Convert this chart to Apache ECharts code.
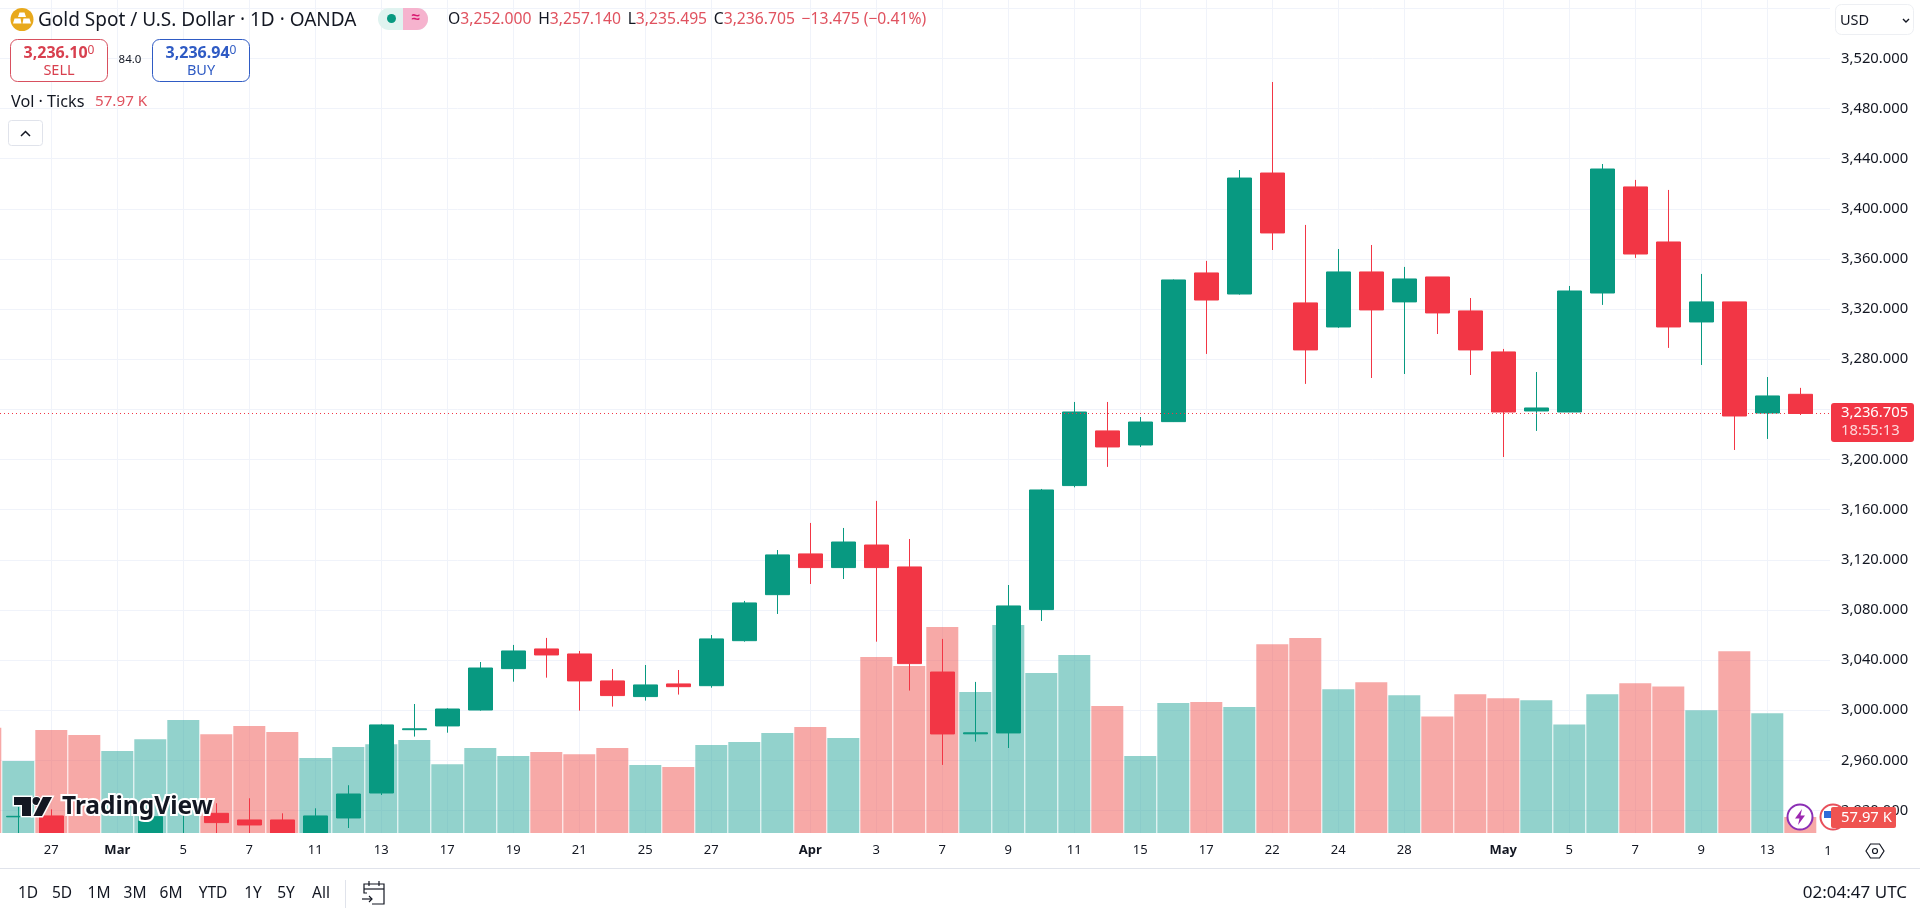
<!DOCTYPE html>
<html><head><meta charset="utf-8"><title>Gold Spot / U.S. Dollar</title>
<style>html,body{margin:0;padding:0;background:#fff}#c{width:1920px;height:913px}</style>
<script src="https://cdn.jsdelivr.net/npm/echarts@6/dist/echarts.min.js"></script></head>
<body><div id="c"></div>
<script>
const categories=["Feb 25","Feb 26","Feb 27","Feb 28","Mar 3","Mar 4","Mar 5","Mar 6","Mar 7","Mar 10","Mar 11","Mar 12","Mar 13","Mar 14","Mar 17","Mar 18","Mar 19","Mar 20","Mar 21","Mar 24","Mar 25","Mar 26","Mar 27","Mar 28","Mar 31","Apr 1","Apr 2","Apr 3","Apr 4","Apr 7","Apr 8","Apr 9","Apr 10","Apr 11","Apr 14","Apr 15","Apr 16","Apr 17","Apr 18","Apr 22","Apr 23","Apr 24","Apr 25","Apr 28","Apr 29","Apr 30","May 1","May 2","May 5","May 6","May 7","May 8","May 9","May 12","May 13","May 14"];
const opens=[2930,2915,2915.7,2876,2858,2893,2885,2917.8,2912.5,2912.5,2888,2914.1,2934,2984.5,2987.5,3000.2,3033.2,3048.9,3044.9,3023.4,3010.9,3021,3019.6,3055.5,3092.2,3124.7,3113.8,3131.8,3114.3,3030.5,2981.2,2981.9,3080.3,3179.2,3222.8,3211.6,3230.2,3348.8,3332,3428.5,3324.9,3305.7,3349.6,3325.7,3345.6,3318.5,3285.8,3238.7,3237.9,3332.8,3417.4,3373.5,3309.7,3325.7,3237.1,3252];
const closes=[2915,2915.4,2876,2858,2893,2915.1,2899,2910.4,2908.5,2888,2915.7,2933.2,2988.3,2985.2,3001,3033.7,3047.3,3044.1,3023.4,3011.7,3020.2,3018.8,3056.9,3085.6,3123.9,3113.8,3134.2,3113.8,3037.2,2981.1,2982,3083.2,3175.7,3237.9,3210,3229.9,3343.2,3327.2,3424.5,3380.7,3287.4,3349.6,3319.3,3344,3316.9,3287.4,3237.9,3241.1,3334.4,3431.7,3363.9,3305.7,3325.7,3234.7,3250.7,3236.705];
const lows=[2905,2890,2870,2832,2833,2885,2880,2893,2895,2880,2880,2906.1,2932.4,2979,2982.1,2999.7,3022.8,3026,2999.7,3002.9,3007.7,3012.5,3018,3054.7,3076.8,3100.7,3104.7,3054.7,3015.7,2956.4,2975,2969.9,3071.2,3177.8,3194.1,3210,3229.9,3284.2,3331.5,3367.1,3260.3,3305,3265,3268.2,3300.1,3267.4,3202,3222.8,3237.9,3323.3,3360.8,3289,3275.4,3207.6,3216.4,3235.495];
const highs=[2940,2923,2921,2884,2894,2925,2925,2925.8,2929.8,2917.8,2921.8,2940.2,2989.1,3005,3001.6,3038.5,3052.1,3057.7,3047.3,3032.9,3036.1,3032.1,3060,3087.2,3127.8,3149.4,3145.4,3167,3136.6,3056.9,3022.6,3099.9,3176.5,3245.9,3245.9,3233.9,3343.6,3358.4,3430.9,3501.1,3387.1,3367.9,3371.1,3353.6,3345.6,3328.8,3288.2,3269.8,3338.4,3435.7,3423,3415,3348,3325.7,3265.8,3257.14];
const volumes=[379,259,371,353,295,338,407,356,385,364,270,310,320,335,248,306,277,292,284,306,245,238,317,328,360,382,342,634,601,742,508,749,576,641,457,277,468,472,454,680,702,518,543,496,420,500,485,478,391,500,539,528,442,655,431,57.97];
const tickIndex=[2,4,6,8,10,12,14,16,18,20,22,25,27,29,31,33,35,37,39,41,43,46,48,50,52,54];
const tickLabels=["27","Mar","5","7","11","13","17","19","21","25","27","Apr","3","7","9","11","15","17","22","24","28","May","5","7","9","13"];
const priceTicks=[2920,2960,3000,3040,3080,3120,3160,3200,3240,3280,3320,3360,3400,3440,3480,3520,3560];
const lastPrice=3236.705;
const ranges=["1D","5D","1M","3M","6M","YTD","1Y","5Y","All"];
const rangeX=[28,62,99,135,171,213,253,286,321];

const FONT='"Noto Sans", sans-serif', INK='#131722', UP='#089981', DN='#F23645';
const up=i=>closes[i]>=opens[i];
const candleData=categories.map((_,i)=>({value:[i,opens[i],closes[i],lows[i],highs[i]]}));
const volData=categories.map((_,i)=>({value:[i,volumes[i]],itemStyle:{color:up(i)?'rgba(38,166,154,0.5)':'rgba(239,83,80,0.5)'}}));
const gridCol='#F0F3FA';
const T=(x,y,text,o={})=>({type:'text',x,y,z:o.z||50,style:Object.assign({text,fill:INK,font:'14px '+FONT,textAlign:'left',textVerticalAlign:'middle'},o.style||{})});
const box=(x,y,w,h,r,stroke,fill,z,lw)=>({type:'rect',z:z||50,shape:{x,y,width:w,height:h,r},style:{fill:fill||'#fff',stroke,lineWidth:lw||1}});
const ln=(pts,stroke,lw,z)=>({type:'polyline',z:z||60,shape:{points:pts},style:{stroke,lineWidth:lw||1.2,fill:null}});
const OHLC={type:'text',x:448,y:20,z:50,style:{text:'{k|O}{v|3,252.000}  {k|H}{v|3,257.140}  {k|L}{v|3,235.495}  {k|C}{v|3,236.705}  {v|−13.475 (−0.41%)}',
 textVerticalAlign:'middle',rich:{k:{fill:INK,font:'15.7px '+FONT},v:{fill:'#E0525F',font:'15.7px '+FONT}}}};
const price=(x,a,b,col)=>({type:'text',x,y:53,z:52,style:{text:'{a|'+a+'}{b|'+b+'}',textAlign:'center',textVerticalAlign:'middle',rich:{a:{fill:col,font:'bold 16px '+FONT},b:{fill:col,font:'12px '+FONT,verticalAlign:'top'}}}});
const graphics=[
 // cover below the pane: the price scale stops at the pane edge
 {type:'rect',z:5,shape:{x:0,y:833,width:1831,height:80},style:{fill:'#fff'}},
 // header
 {type:'circle',z:50,shape:{cx:22,cy:19.5,r:11.5},style:{fill:'#E8A91C'}},
 {type:'polygon',z:51,shape:{points:[[19.5,12.5],[24.5,12.5],[26,17],[18,17]]},style:{fill:'#fff'}},
 {type:'polygon',z:51,shape:{points:[[14.5,18.5],[20.5,18.5],[21.5,23.5],[13,23.5]]},style:{fill:'#fff'}},
 {type:'polygon',z:51,shape:{points:[[23.5,18.5],[29.5,18.5],[31,23.5],[22.5,23.5]]},style:{fill:'#fff'}},
 T(38,21,'Gold Spot / U.S. Dollar · 1D · OANDA',{style:{font:'19px '+FONT}}),
 box(378,8,50,22,11,null,'#E0F3F0'),
 {type:'rect',z:51,shape:{x:403,y:8,width:25,height:22,r:[0,11,11,0]},style:{fill:'#F6B3CE'}},
 {type:'circle',z:52,shape:{cx:391.5,cy:18.5,r:4.5},style:{fill:UP}},
 T(415.5,18,'≈',{z:53,style:{fill:'#D81B71',font:'bold 15px '+FONT,textAlign:'center'}}),
 OHLC,
 // trade buttons
 box(10.5,39.5,97,42,7,'#D8505F'),
 price(59,'3,236.10','0','#D8404F'),
 T(59,70.5,'SELL',{z:52,style:{fill:'#D8404F',font:'14.5px '+FONT,textAlign:'center'}}),
 T(130,60,'84.0',{style:{font:'11.5px '+FONT,textAlign:'center'}}),
 box(152.5,39.5,97,42,7,'#2F5BC4'),
 price(201,'3,236.94','0','#2F5BC4'),
 T(201,70.5,'BUY',{z:52,style:{fill:'#2F5BC4',font:'14.5px '+FONT,textAlign:'center'}}),
 T(11,102,'Vol · Ticks',{style:{font:'16.2px '+FONT}}),
 T(95,102,'57.97 K',{style:{fill:'#E0525F',font:'15.2px '+FONT}}),
 box(8.5,120.5,34,25,3,'#E0E3EB'),
 ln([[21,136],[25.5,131.5],[30,136]],INK,1.5),
 // right column
 box(1835.5,4.5,78,30,6,'#EDEFF3'),
 T(1840,21,'USD',{style:{font:'14.5px '+FONT}}),
 ln([[1903,19],[1906,22],[1909,19]],INK,1.4),
 // last price tag
 {type:'circle',z:40,shape:{cx:1800,cy:817,r:12.5},style:{fill:'#fff',stroke:'#8B2FB5',lineWidth:2}},
 {type:'polygon',z:41,shape:{points:[[1802,809],[1795,818.5],[1799.5,818.5],[1798,825],[1805,815.5],[1800.5,815.5]]},style:{fill:'#9C27B0'}},
 {type:'circle',z:40,shape:{cx:1833,cy:817,r:12.5},style:{fill:'#fff',stroke:'#E8505B',lineWidth:2}},
 {type:'rect',z:41,shape:{x:1824,y:811,width:8,height:7},style:{fill:'#2F6BD8'}},
 box(1831,403,83,39,3,null,DN,45),
 T(1841,413,'3,236.705',{z:46,style:{fill:'#fff',font:'14.8px '+FONT}}),
 T(1841,431,'18:55:13',{z:46,style:{fill:'rgba(255,255,255,0.8)',font:'14.8px '+FONT}}),
 box(1831,807,65,21,2,null,'#EF5350',45),
 T(1841,817.5,'57.97 K',{z:46,style:{fill:'#fff',font:'14.8px '+FONT}}),
 // x-axis stray label & settings
 T(1828,851,'1',{style:{font:'13px '+FONT,textAlign:'center'}}),
 {type:'polygon',z:50,shape:{points:[[1866,851],[1870.5,844],[1879.5,844],[1884,851],[1879.5,858],[1870.5,858]]},style:{fill:'#fff',stroke:INK,lineWidth:1.2}},
 {type:'circle',z:51,shape:{cx:1875,cy:851,r:2.5},style:{fill:'#fff',stroke:INK,lineWidth:1.2}},
 // bottom bar
 {type:'line',z:50,shape:{x1:0,y1:868.5,x2:1920,y2:868.5},style:{stroke:'#E0E3EB',lineWidth:1}},
 ...ranges.map((r,i)=>T(rangeX[i],893.5,r,{style:{font:'15.5px '+FONT,textAlign:'center'}})),
 {type:'line',z:50,shape:{x1:345.5,y1:880,x2:345.5,y2:908},style:{stroke:'#E0E3EB',lineWidth:1}},
 ln([[367,893],[364,893],[364,884],[384,884],[384,904],[372,904]],INK,1.2),
 ln([[364,889],[384,889]],INK,1.2),
 ln([[369,881],[369,886]],INK,1.2), ln([[379,881],[379,886]],INK,1.2),
 ln([[362,899],[372,899]],INK,1.2), ln([[369,896],[372,899],[369,902]],INK,1.2),
 T(1907,893.5,'02:04:47 UTC',{style:{font:'17px '+FONT,textAlign:'right'}}),
 // watermark logo
 {type:'polygon',z:70,shape:{points:[[14,797],[31,797],[31,816],[22,816],[22,805],[14,805]]},style:{fill:'#131722',stroke:'#fff',lineWidth:3,strokeFirst:true}},
 {type:'circle',z:70,shape:{cx:36.5,cy:801,r:4},style:{fill:'#131722',stroke:'#fff',lineWidth:2,strokeFirst:true}},
 {type:'polygon',z:70,shape:{points:[[43,797],[52,797],[42,816],[33.5,816]]},style:{fill:'#131722',stroke:'#fff',lineWidth:3,strokeFirst:true}},
 {type:'text',x:62,y:807,z:70,style:{text:'TradingView',fill:'#131722',font:'bold 24.5px '+FONT,stroke:'#fff',lineWidth:4,strokeFirst:true,textVerticalAlign:'middle'}}
];

const chart=echarts.init(document.getElementById('c'),null,{renderer:'canvas'});
const xMin=0.4455,xMax=55.9;
chart.setOption({
 animation:false,backgroundColor:'#fff',
 grid:{left:0,top:0,width:1830,height:833,containLabel:false,outerBoundsMode:'none'},
 xAxis:[
  {type:'value',position:'bottom',min:xMin,max:xMax,axisLine:{show:false},axisTick:{show:false,customValues:tickIndex},
   splitLine:{show:true,lineStyle:{color:gridCol,width:1}},
   axisLabel:{show:false,customValues:tickIndex}},
  {type:'value',position:'bottom',min:xMin,max:xMax,z:10,axisLine:{show:false},axisTick:{show:false,customValues:tickIndex},
   splitLine:{show:false},
   axisLabel:{customValues:tickIndex,margin:11,color:INK,fontFamily:FONT,fontSize:13,hideOverlap:false,
    formatter:v=>{const s=tickLabels[tickIndex.indexOf(v)];return /[A-Za-z]/.test(s)?'{b|'+s+'}':s},
    rich:{b:{fontWeight:'bold',fontFamily:FONT,fontSize:13,color:INK}}}}
 ],
 yAxis:[
  {type:'value',position:'right',min:2902.1,max:3566.5,
   axisLine:{show:false},axisTick:{show:false,customValues:priceTicks},
   splitLine:{show:true,lineStyle:{color:gridCol,width:1}},
   axisLabel:{customValues:priceTicks,margin:11,color:INK,fontFamily:FONT,fontSize:14.8,
    formatter:v=>v>=3560?'':v.toLocaleString('en-US',{minimumFractionDigits:3,maximumFractionDigits:3})}},
  {type:'value',min:0,max:3000,show:false,splitLine:{show:false}}
 ],
 series:[
  {type:'bar',name:'Vol',xAxisIndex:0,yAxisIndex:1,z:1,barWidth:32,data:volData,silent:true,encode:{x:0,y:1}},
  {type:'candlestick',name:'Gold',xAxisIndex:0,yAxisIndex:0,z:3,barWidth:24,data:candleData,encode:{x:0,y:[1,2,3,4]},
   itemStyle:{color:UP,color0:DN,borderColor:UP,borderColor0:DN,borderWidth:1},
   markLine:{silent:true,symbol:'none',label:{show:false},z:4,data:[{yAxis:lastPrice}],lineStyle:{color:DN,type:[1,3],width:1}}}
 ],
 graphic:{elements:graphics}
});
</script></body></html>
